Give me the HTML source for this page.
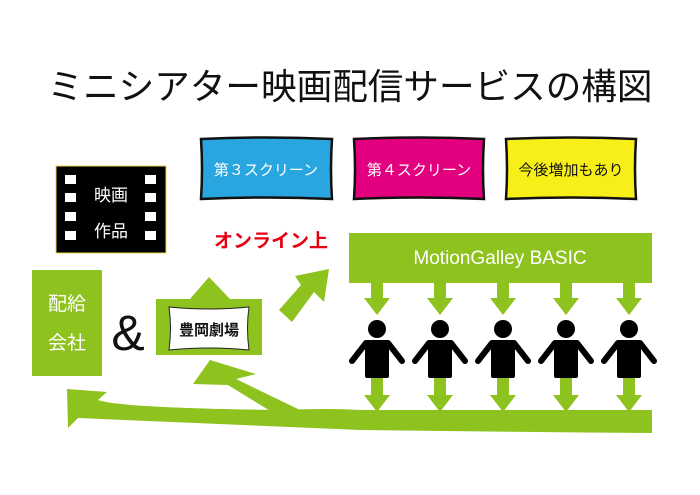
<!DOCTYPE html>
<html><head><meta charset="utf-8"><style>
html,body{margin:0;padding:0;background:#fff;}
svg{display:block;}
text{font-family:"Liberation Sans","Noto Sans CJK JP",sans-serif;}
</style></head><body>
<svg width="700" height="495" viewBox="0 0 700 495" xmlns="http://www.w3.org/2000/svg">
<rect width="700" height="495" fill="#fff"/>
<text x="350" y="99" font-size="36" text-anchor="middle" fill="#111" textLength="605" lengthAdjust="spacingAndGlyphs">ミニシアター映画配信サービスの構図</text>

<!-- screens -->
<path d="M201,139 Q266,136 332,139 Q330,169 332,199 Q266,196 201,199 Q203,169 201,139Z" fill="#29a6df" stroke="#111" stroke-width="2.5"/>
<text x="266" y="175" font-size="15" fill="#fff" text-anchor="middle">第３スクリーン</text>
<path d="M354,139 Q419,136 484,139 Q482,169 484,199 Q419,196 354,199 Q356,169 354,139Z" fill="#e3007f" stroke="#111" stroke-width="2.5"/>
<text x="419" y="175" font-size="15" fill="#fff" text-anchor="middle">第４スクリーン</text>
<path d="M506,139 Q571,136 636,139 Q634,169 636,199 Q571,196 506,199 Q508,169 506,139Z" fill="#f7ef17" stroke="#111" stroke-width="2.5"/>
<text x="571" y="175" font-size="15" fill="#111" text-anchor="middle">今後増加もあり</text>

<!-- film -->
<rect x="56" y="166" width="110" height="87" fill="#000" stroke="#e8d44a" stroke-width="1"/>
<g fill="#fff">
<rect x="65" y="175" width="11" height="9"/><rect x="65" y="193" width="11" height="9"/><rect x="65" y="212" width="11" height="9"/><rect x="65" y="231" width="11" height="9"/>
<rect x="145" y="175" width="11" height="9"/><rect x="145" y="193" width="11" height="9"/><rect x="145" y="212" width="11" height="9"/><rect x="145" y="231" width="11" height="9"/>
</g>
<text x="111" y="201" font-size="17" fill="#fff" text-anchor="middle">映画</text>
<text x="111" y="237" font-size="17" fill="#fff" text-anchor="middle">作品</text>

<!-- 配給会社 -->
<rect x="32" y="270" width="70" height="106" fill="#8dc21f"/>
<text x="67" y="310" font-size="19" fill="#fff" text-anchor="middle">配給</text>
<text x="67" y="349" font-size="19" fill="#fff" text-anchor="middle">会社</text>
<text x="128" y="350" font-size="50" fill="#111" text-anchor="middle">&amp;</text>

<!-- 豊岡劇場 -->
<polygon points="156,299 190,299 209,277 230,299 262,299 262,355 156,355" fill="#8dc21f"/>
<path d="M169,307 Q209,311 249,307 Q246,328 249,350 Q209,346 169,350 Q172,328 169,307Z" fill="#fff" stroke="#222" stroke-width="1"/>
<text x="209" y="335" font-size="15" font-weight="bold" fill="#111" text-anchor="middle">豊岡劇場</text>

<text x="271" y="247" font-size="19" font-weight="bold" fill="#e60012" text-anchor="middle">オンライン上</text>
<polygon points="329,269 324,302 314,292 292,322 279,310 301,285 295,276" fill="#8dc21f"/>

<!-- MotionGalley -->
<rect x="349" y="233" width="303" height="50" fill="#8dc21f"/>
<text x="500" y="264" font-size="19" fill="#fff" text-anchor="middle">MotionGalley BASIC</text>

<g fill="#8dc21f">
<polygon points="371,283 383,283 383,298 390,298 377,315 364,298 371,298"/>
<polygon points="434,283 446,283 446,298 453,298 440,315 427,298 434,298"/>
<polygon points="497,283 509,283 509,298 516,298 503,315 490,298 497,298"/>
<polygon points="560,283 572,283 572,298 579,298 566,315 553,298 560,298"/>
<polygon points="623,283 635,283 635,298 642,298 629,315 616,298 623,298"/>
<polygon points="371,376 383,376 383,395 390,395 377,412 364,395 371,395"/>
<polygon points="434,376 446,376 446,395 453,395 440,412 427,395 434,395"/>
<polygon points="497,376 509,376 509,395 516,395 503,412 490,395 497,395"/>
<polygon points="560,376 572,376 572,395 579,395 566,412 553,395 560,395"/>
<polygon points="623,376 635,376 635,395 642,395 629,412 616,395 623,395"/>
</g>
<g fill="#000" stroke="#000" stroke-linecap="round">
 <g transform="translate(377,0)"><circle cx="0" cy="329" r="9" stroke="none"/><rect x="-12" y="340" width="24" height="38" rx="2" stroke="none"/><path d="M-11,343 L-25,361 M11,343 L25,361" stroke-width="6" fill="none"/></g>
 <g transform="translate(440,0)"><circle cx="0" cy="329" r="9" stroke="none"/><rect x="-12" y="340" width="24" height="38" rx="2" stroke="none"/><path d="M-11,343 L-25,361 M11,343 L25,361" stroke-width="6" fill="none"/></g>
 <g transform="translate(503,0)"><circle cx="0" cy="329" r="9" stroke="none"/><rect x="-12" y="340" width="24" height="38" rx="2" stroke="none"/><path d="M-11,343 L-25,361 M11,343 L25,361" stroke-width="6" fill="none"/></g>
 <g transform="translate(566,0)"><circle cx="0" cy="329" r="9" stroke="none"/><rect x="-12" y="340" width="24" height="38" rx="2" stroke="none"/><path d="M-11,343 L-25,361 M11,343 L25,361" stroke-width="6" fill="none"/></g>
 <g transform="translate(629,0)"><circle cx="0" cy="329" r="9" stroke="none"/><rect x="-12" y="340" width="24" height="38" rx="2" stroke="none"/><path d="M-11,343 L-25,361 M11,343 L25,361" stroke-width="6" fill="none"/></g>
</g>

<!-- bottom band -->
<path d="M652,410 L652,433 Q500,432 360,430 L78,418 L68,428 L67,389 L107,392 L98,400 Q120,408 280,410 Q330,408 360,410 Z" fill="#8dc21f"/>
<polygon points="210,360 256,374 236,379 300,410 272,412 228,385 193,384" fill="#8dc21f"/>
</svg>
</body></html>
